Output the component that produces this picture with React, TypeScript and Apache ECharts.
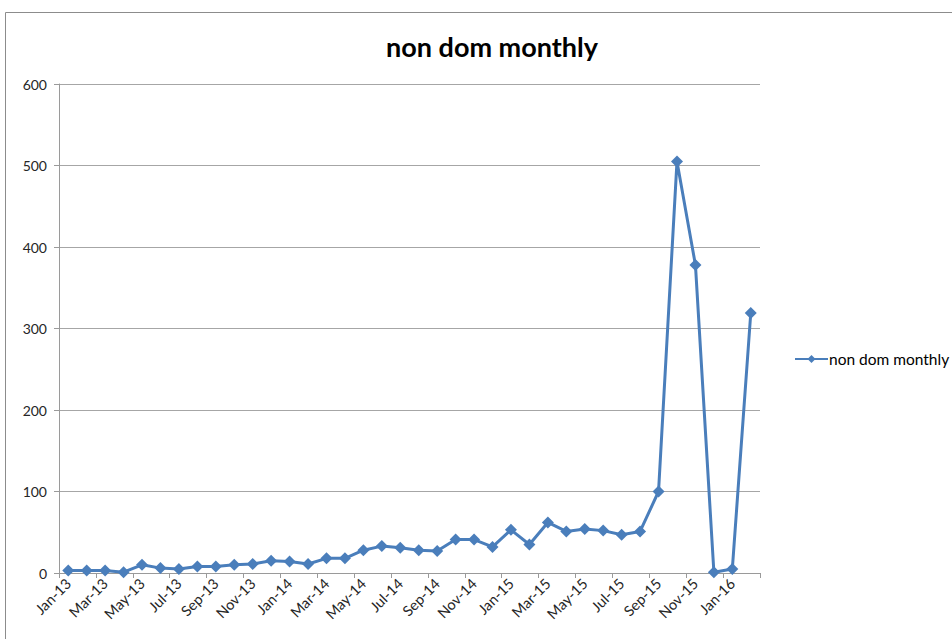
import React, { useEffect, useRef } from "react";
import * as echarts from "echarts";

const categories = [
  "Jan-13", "Feb-13", "Mar-13", "Apr-13", "May-13", "Jun-13", "Jul-13", "Aug-13", "Sep-13", "Oct-13", "Nov-13", "Dec-13",
  "Jan-14", "Feb-14", "Mar-14", "Apr-14", "May-14", "Jun-14", "Jul-14", "Aug-14", "Sep-14", "Oct-14", "Nov-14", "Dec-14",
  "Jan-15", "Feb-15", "Mar-15", "Apr-15", "May-15", "Jun-15", "Jul-15", "Aug-15", "Sep-15", "Oct-15", "Nov-15", "Dec-15",
  "Jan-16", "Feb-16",
];

const nonDomMonthly = [
  3, 3, 3, 1, 10, 6, 5, 8, 8, 10, 11, 15,
  14, 11, 18, 18, 28, 33, 31, 28, 27, 41, 41, 32,
  53, 35, 62, 51, 54, 52, 47, 51, 100, 505, 378, 1,
  5, 319,
];

const seriesName = "non dom monthly";
const titleText = "non dom monthly";

export default function App() {
  const ref = useRef<HTMLDivElement>(null);
  useEffect(() => {
    if (!ref.current) return;
    const chart = echarts.init(ref.current, null, { renderer: "svg" });
    const font = "Lato, 'Open Sans', sans-serif";
    chart.setOption({
      animation: false,
      backgroundColor: "#ffffff",
      title: {
        text: titleText,
        left: 487,
        textAlign: "center",
        top: 28,
        textStyle: { fontFamily: font, fontSize: 27, fontWeight: "bold", color: "#000000" },
      },
      legend: {
        left: 789,
        top: 346,
        itemWidth: 33,
        itemHeight: 10,
        itemGap: 4,
        data: [seriesName],
        textStyle: { fontFamily: font, fontSize: 15.5, color: "#000000", padding: [0, 0, 0, -4] },
      },
      grid: { left: 59, right: 192, top: 84, bottom: 66 },
      xAxis: {
        type: "category",
        data: categories,
        boundaryGap: true,
        axisLine: { lineStyle: { color: "#9a9a9a", width: 1 } },
        axisTick: { show: true, interval: 1, length: 5, lineStyle: { color: "#9a9a9a" } },
        axisLabel: {
          interval: 1,
          rotate: 45,
          margin: 8,
          fontFamily: font,
          fontSize: 14.5,
          color: "#262626",
        },
      },
      yAxis: {
        type: "value",
        min: 0,
        max: 600,
        interval: 100,
        axisLine: { show: true, lineStyle: { color: "#9a9a9a", width: 1 } },
        axisTick: { show: true, length: 5, lineStyle: { color: "#9a9a9a" } },
        axisLabel: { margin: 12, fontFamily: font, fontSize: 14, color: "#262626" },
        splitLine: { show: true, lineStyle: { color: "#a6a6a6", width: 1 } },
      },
      graphic: [
        {
          type: "rect",
          shape: { x: 5.5, y: 12.5, width: 1000, height: 700 },
          style: { fill: "none", stroke: "#8c8c8c", lineWidth: 1 },
          silent: true,
          z: 100,
        },
      ],
      series: [
        {
          name: seriesName,
          type: "line",
          data: nonDomMonthly,
          symbol: "diamond",
          symbolSize: 12,
          showAllSymbol: true,
          itemStyle: { color: "#4a7ebb" },
          lineStyle: { color: "#4a7ebb", width: 3 },
        },
      ],
    });
    return () => chart.dispose();
  }, []);
  return (
    <div
      ref={ref}
      style={{ position: "absolute", left: 0, top: 0, width: 952, height: 639 }}
    />
  );
}
